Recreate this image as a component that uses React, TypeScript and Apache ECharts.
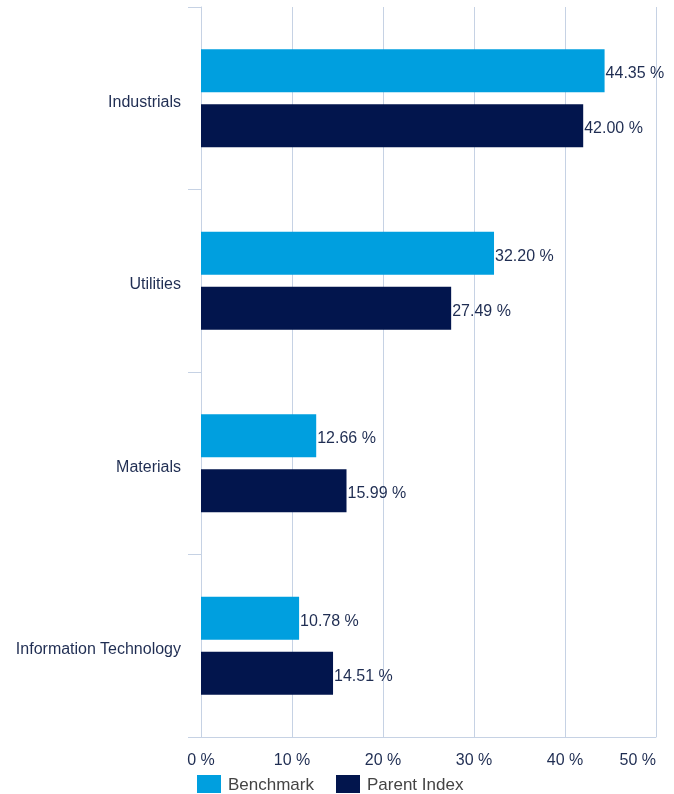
import React, { useEffect, useRef } from "react";
import * as echarts from "echarts";

const categories = ["Industrials", "Utilities", "Materials", "Information Technology"];
const benchmark = [44.35, 32.2, 12.66, 10.78];
const parentIndex = [42.0, 27.49, 15.99, 14.51];
const seriesNames = ["Benchmark", "Parent Index"];

const TEXT = "#1f2d52";
const LINE = "#c6d2e4";
const FONT = "'Liberation Sans', Arial, Helvetica, sans-serif";

export default function App() {
  const ref = useRef<HTMLDivElement>(null);
  useEffect(() => {
    if (!ref.current) return;
    const chart = echarts.init(ref.current, undefined, { renderer: "svg" });
    const label = {
      show: true,
      position: "right",
      distance: 1,
      offset: [0, 2],
      color: TEXT,
      fontSize: 16,
      fontFamily: FONT,
      formatter: (p: any) => p.value.toFixed(2) + " %",
    };
    chart.setOption({
      animation: false,
      textStyle: { fontFamily: FONT },
      grid: { left: 201, right: 18, top: 7, bottom: 57, containLabel: false },
      legend: {
        left: 197,
        top: 775,
        padding: 0,
        itemWidth: 24,
        itemHeight: 18,
        itemGap: 22,
        icon: "rect",
        textStyle: { fontSize: 17, color: "#444444", fontFamily: FONT, padding: [0, 0, 0, 2] },
        data: seriesNames,
      },
      xAxis: {
        type: "value",
        min: 0,
        max: 50,
        interval: 10,
        axisLine: { show: true, lineStyle: { color: LINE, width: 1 } },
        axisTick: { show: false },
        splitLine: { show: true, lineStyle: { color: LINE, width: 1 } },
        axisLabel: {
          formatter: "{value} %",
          color: TEXT,
          fontSize: 16,
          fontFamily: FONT,
          margin: 14,
          alignMaxLabel: "right",
        },
      },
      yAxis: {
        type: "category",
        inverse: true,
        data: categories,
        axisLine: { show: true, lineStyle: { color: LINE, width: 1 } },
        axisTick: { show: true, length: 13, lineStyle: { color: LINE, width: 1 } },
        axisLabel: {
          color: TEXT,
          fontSize: 16,
          fontFamily: FONT,
          margin: 20,
          verticalAlign: "top",
          lineHeight: 6,
        },
      },
      series: [
        {
          name: seriesNames[0],
          type: "bar",
          data: benchmark,
          barWidth: 43,
          barGap: "28%",
          itemStyle: { color: "#009fdf" },
          label,
        },
        {
          name: seriesNames[1],
          type: "bar",
          data: parentIndex,
          barWidth: 43,
          barGap: "28%",
          itemStyle: { color: "#02154d" },
          label,
        },
      ],
    });
    return () => chart.dispose();
  }, []);
  return (
    <div
      ref={ref}
      style={{ position: "fixed", left: 0, top: 0, width: 674, height: 794, overflow: "hidden" }}
    />
  );
}
